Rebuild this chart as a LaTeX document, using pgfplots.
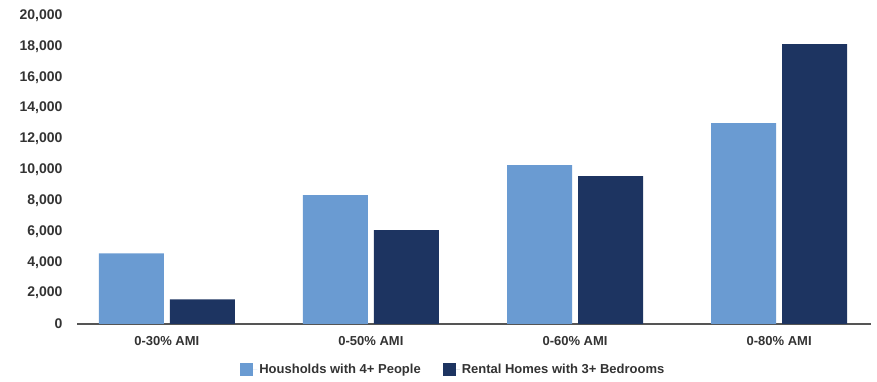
\documentclass[border=0pt]{standalone}
\usepackage{pgfplots}
\pgfplotsset{compat=1.18}
\usepackage{fontspec}
\setmainfont{Liberation Sans}
\definecolor{lightbar}{HTML}{6A9BD2}
\definecolor{darkbar}{HTML}{1D3461}
\definecolor{labelgray}{HTML}{333333}
\definecolor{baseline}{HTML}{555555}
\begin{document}
\begin{tikzpicture}
\path[use as bounding box] (0,0) rectangle (877bp,382bp);
\begin{axis}[
  at={(77bp,58bp)}, anchor=south west,
  scale only axis, width=794bp, height=308.5bp,
  xmin=-0.44, xmax=3.45, ymin=0, ymax=20000,
  ybar, bar width=65bp,
  axis x line*=bottom, axis y line*=left,
  x axis line style={draw=baseline, line width=1.2bp, -},
  y axis line style={draw=none},
  major tick length=0pt,
  ytick={0,2000,...,20000},
  xtick={0,1,2,3},
  xticklabels={0-30\% AMI, 0-50\% AMI, 0-60\% AMI, 0-80\% AMI},
  scaled y ticks=false,
  /pgf/number format/fixed,
  /pgf/number format/1000 sep={,},
  /pgf/number format/assume math mode=true,
  ticklabel style={text=labelgray},
  yticklabel style={font=\fontsize{14bp}{16bp}\selectfont\bfseries, xshift=-11bp},
  xticklabel style={font=\fontsize{13bp}{15bp}\selectfont\bfseries, yshift=-9bp},
  legend style={at={(0.474,-0.146)}, anchor=center, draw=none, fill=none,
    legend columns=2, font=\fontsize{13bp}{15bp}\selectfont\bfseries, text=labelgray,
    /tikz/every even column/.append style={column sep=20bp}},
  legend image code/.code={\fill[#1,draw=none] (0bp,-6.5bp) rectangle (13bp,6.5bp);
    \path (0bp,0bp) -- (17bp,0bp);},
]
\addplot[fill=lightbar, draw=none, bar shift=-35.5bp] coordinates {
  (0,4580) (1,8360) (2,10300) (3,13030)
};
\addlegendentry{Housholds with 4+ People}
\addplot[fill=darkbar, draw=none, bar shift=35.5bp] coordinates {
  (0,1600) (1,6090) (2,9590) (3,18150)
};
\addlegendentry{Rental Homes with 3+ Bedrooms}
\end{axis}
\end{tikzpicture}
\end{document}
